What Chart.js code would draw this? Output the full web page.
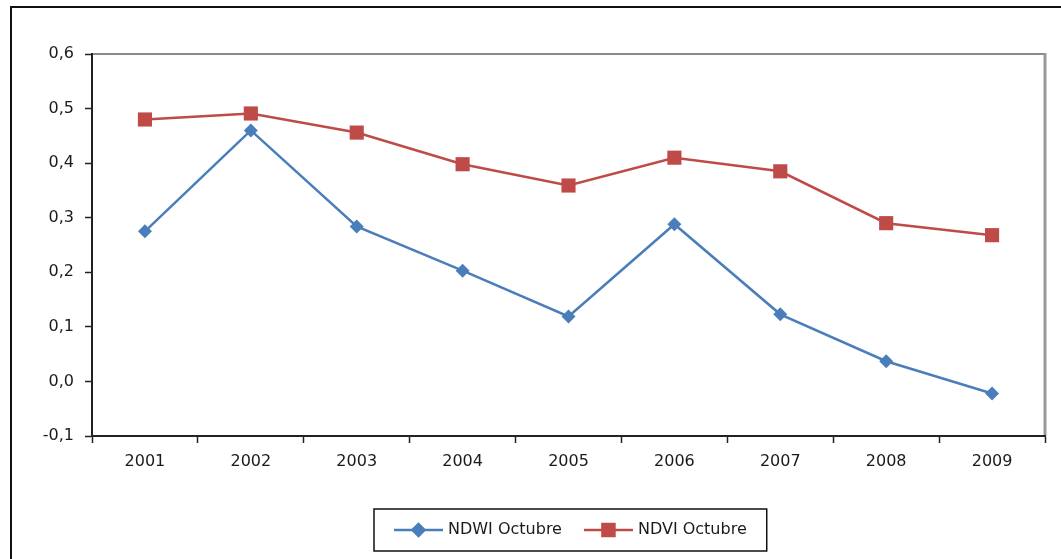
<!DOCTYPE html>
<html>
<head>
<meta charset="utf-8">
<script src="https://cdn.jsdelivr.net/npm/chart.js@4/dist/chart.umd.min.js"></script>
<style>
  html, body { margin: 0; padding: 0; background: #fff; }
</style>
</head>
<body>
<canvas id="indexChart" width="1061" height="559"></canvas>
<script>
const years = ["2001", "2002", "2003", "2004", "2005", "2006", "2007", "2008", "2009"];
const ndwiOct = [0.275, 0.46, 0.284, 0.203, 0.119, 0.288, 0.123, 0.037, -0.022];
const ndviOct = [0.48, 0.491, 0.456, 0.398, 0.359, 0.41, 0.385, 0.29, 0.268];
const seriesNames = ["NDWI Octubre", "NDVI Octubre"];

const FONT = "DejaVu Sans";
const TEXT = "#1a1a1a";

// outer frame + grey top/right border of plot area
const framePlugin = {
  id: "frame",
  beforeDraw(chart) {
    const ctx = chart.ctx;
    const a = chart.chartArea;
    ctx.save();
    ctx.fillStyle = "#fff";
    ctx.fillRect(0, 0, chart.width, chart.height);
    ctx.strokeStyle = "#111";
    ctx.lineWidth = 2;
    ctx.strokeRect(11, 7, 1200, 700);
    ctx.strokeStyle = "#8a8a8a";
    ctx.lineWidth = 2;
    ctx.beginPath();
    ctx.moveTo(a.left, a.top);
    ctx.lineTo(a.right, a.top);
    ctx.stroke();
    ctx.lineWidth = 3;
    ctx.strokeStyle = "#999";
    ctx.beginPath();
    ctx.moveTo(a.right, a.top - 1);
    ctx.lineTo(a.right, a.bottom);
    ctx.stroke();
    ctx.restore();
  },
};

// boxed legend with line + marker symbols
const legendPlugin = {
  id: "boxLegend",
  afterDraw(chart) {
    const ctx = chart.ctx;
    ctx.save();
    ctx.font = "16px '" + FONT + "'";
    const lineLen = 49, gapText = 5, gapItem = 22, padX = 20;
    const items = chart.data.datasets.map((ds) => ({
      ds,
      w: ctx.measureText(ds.label).width,
    }));
    let total = padX * 2 + gapItem * (items.length - 1);
    items.forEach((it) => (total += lineLen + gapText + it.w));
    const boxTop = 509, boxH = 42;
    const boxLeft = Math.round(570 - total / 2);
    ctx.strokeStyle = "#111";
    ctx.lineWidth = 1.5;
    ctx.strokeRect(boxLeft, boxTop, total, boxH);
    const cy = boxTop + boxH / 2;
    let x = boxLeft + padX;
    items.forEach((it) => {
      const ds = it.ds;
      ctx.strokeStyle = ds.borderColor;
      ctx.lineWidth = 2.5;
      ctx.beginPath();
      ctx.moveTo(x, cy);
      ctx.lineTo(x + lineLen, cy);
      ctx.stroke();
      Chart.helpers.drawPoint(ctx, {
        pointStyle: ds.pointStyle,
        radius: ds.pointStyle === "rect" ? 8.5 : 6,
        borderWidth: 1,
      }, x + lineLen / 2, cy);
      ctx.fillStyle = ds.borderColor;
      ctx.fill();
      ctx.fillStyle = TEXT;
      ctx.textBaseline = "middle";
      ctx.textAlign = "left";
      ctx.fillText(ds.label, x + lineLen + gapText, cy);
      x += lineLen + gapText + it.w + gapItem;
    });
    ctx.restore();
  },
};

new Chart(document.getElementById("indexChart"), {
  type: "line",
  plugins: [framePlugin, legendPlugin],
  data: {
    labels: years,
    datasets: [
      {
        label: seriesNames[0],
        data: ndwiOct,
        borderColor: "#4a7ebb",
        backgroundColor: "#4a7ebb",
        borderWidth: 2.5,
        pointStyle: "rectRot",
        pointRadius: 7,
        pointBorderWidth: 0,
        tension: 0,
      },
      {
        label: seriesNames[1],
        data: ndviOct,
        borderColor: "#be4b48",
        backgroundColor: "#be4b48",
        borderWidth: 2.5,
        pointStyle: "rect",
        pointRadius: 10,
        pointBorderWidth: 0,
        tension: 0,
      },
    ],
  },
  options: {
    responsive: false,
    animation: false,
    layout: {
      padding: { left: 0, top: 54, right: 16, bottom: 83 },
    },
    plugins: {
      legend: { display: false },
      tooltip: { enabled: false },
    },
    scales: {
      x: {
        offset: true,
        grid: {
          offset: true,
          drawOnChartArea: false,
          drawTicks: true,
          tickLength: 7,
          tickColor: "#222",
          tickWidth: 1.5,
        },
        border: { color: "#222", width: 2 },
        ticks: {
          color: TEXT,
          padding: 9,
          font: { family: FONT, size: 16 },
        },
        afterFit(scale) {
          scale.height = 40;
        },
      },
      y: {
        min: -0.1,
        max: 0.6,
        grid: {
          drawOnChartArea: false,
          tickLength: 7,
          tickColor: "#222",
          tickWidth: 1.5,
        },
        border: { color: "#222", width: 2 },
        ticks: {
          stepSize: 0.1,
          color: TEXT,
          padding: 11,
          font: { family: FONT, size: 16 },
          callback: (v) => (Math.round(v * 10) / 10 + 0).toFixed(1).replace(".", ","),
        },
        afterFit(scale) {
          scale.width = 92;
        },
      },
    },
  },
});
</script>
</body>
</html>
